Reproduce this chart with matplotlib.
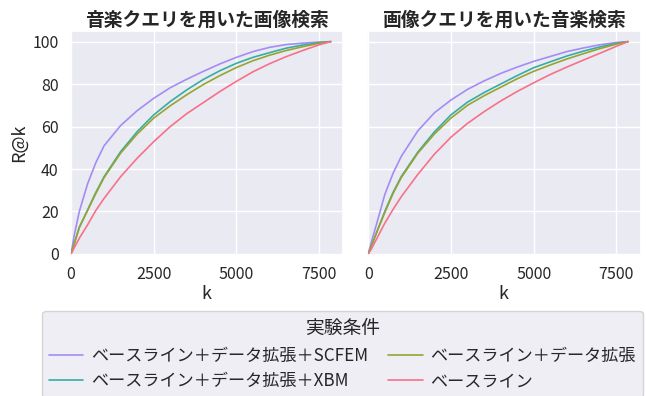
import matplotlib
matplotlib.use("Agg")
import matplotlib.pyplot as plt
import seaborn as sns

sns.set_theme(style="darkgrid", context="notebook")
plt.rcParams['font.family'] = ['Noto Sans CJK JP', 'DejaVu Sans']

k = [0, 100, 250, 500, 750, 1000, 1500, 2000, 2500, 3000, 3500, 4000, 4500,
     5000, 5500, 6000, 6500, 7000, 7500, 7850]

# music query -> image retrieval
m2i_scfem = [0, 9, 20, 33, 43, 51, 60.5, 67.5, 73.3, 78.3, 82.3, 86, 89.5,
             92.6, 95.3, 97.3, 98.6, 99.3, 99.8, 100]
m2i_xbm = [0, 5, 12.5, 20.7, 29, 36.4, 48.2, 57.6, 65.5, 71.8, 77.3, 82.2, 86.3,
           89.8, 92.6, 94.8, 96.9, 98.4, 99.5, 100]
m2i_aug = [0, 5, 12.5, 20.5, 28.5, 36, 47.5, 56.5, 64, 69.8, 75, 79.8, 84,
           87.8, 91, 93.6, 95.8, 97.6, 99.2, 100]
m2i_base = [0, 3, 7.4, 13.7, 20.5, 26.2, 36.4, 45.1, 52.9, 60, 66.1, 71.3, 76.5,
            81.3, 85.8, 89.6, 92.9, 95.8, 98.5, 100]

# image query -> music retrieval
i2m_scfem = [0, 6, 14, 28, 38, 46, 58, 66.5, 72.5, 77.5, 81.5, 85, 88,
             90.7, 93, 95.3, 97, 98.5, 99.6, 100]
i2m_xbm = [0, 4, 10, 20, 29, 36.5, 48, 57.5, 65.5, 71.5, 76, 80, 84,
           87.7, 90.5, 93.2, 95.5, 97.5, 99.2, 100]
i2m_aug = [0, 4, 10, 19.5, 28.5, 36, 47.5, 56.5, 64, 70, 74.5, 78.5, 82.5,
           86, 89, 91.8, 94.3, 96.7, 98.8, 100]
i2m_base = [0, 2.5, 7, 14.5, 21, 27, 37.5, 47, 55, 61.5, 67, 72, 76.5,
            80.6, 84.5, 88, 91.3, 94.5, 97.8, 100]

titles = ["音楽クエリを用いた画像検索", "画像クエリを用いた音楽検索"]
labels = ["ベースライン＋データ拡張＋SCFEM", "ベースライン＋データ拡張＋XBM",
          "ベースライン＋データ拡張", "ベースライン"]
pal = sns.color_palette("husl", 4)
colors = [pal[3], pal[2], pal[1], pal[0]]

panels = [[m2i_scfem, m2i_xbm, m2i_aug, m2i_base],
          [i2m_scfem, i2m_xbm, i2m_aug, i2m_base]]

fig = plt.figure(figsize=(6.46, 3.96), dpi=100)
ax1 = fig.add_axes([0.1079, 0.356, 0.4235, 0.5657])
ax2 = fig.add_axes([0.568, 0.356, 0.4235, 0.5657], sharey=ax1)
axes = [ax1, ax2]

handles = []
for ax, series, title in zip(axes, panels, titles):
    hs = []
    for vals, c, lab in zip(series, colors, labels):
        h, = ax.plot(k, vals, color=c, lw=1.2, label=lab)
        hs.append(h)
    handles = hs
    ax.set_title(title, fontsize=13.5, fontweight='bold', pad=4)
    ax.set_xlim(-40, 8230)
    ax.set_ylim(-0.5, 105)
    ax.set_xticks([0, 2500, 5000, 7500])
    ax.set_yticks([0, 20, 40, 60, 80, 100])
    ax.set_xlabel("k", fontsize=13, labelpad=1)
    ax.tick_params(labelsize=11.5, pad=2)

ax1.set_ylabel("R@k", fontsize=13, labelpad=3)
plt.setp(ax2.get_yticklabels(), visible=False)

fig.legend(handles, labels, title="実験条件", ncol=2, loc='upper center',
           bbox_to_anchor=(0.530, 0.2146), fontsize=12.3, title_fontsize=13.5,
           frameon=True, handlelength=2.0, handletextpad=0.45,
           columnspacing=1.2, labelspacing=0.45, borderaxespad=0,
           borderpad=0.4)

fig.savefig("out.png", dpi=100)
